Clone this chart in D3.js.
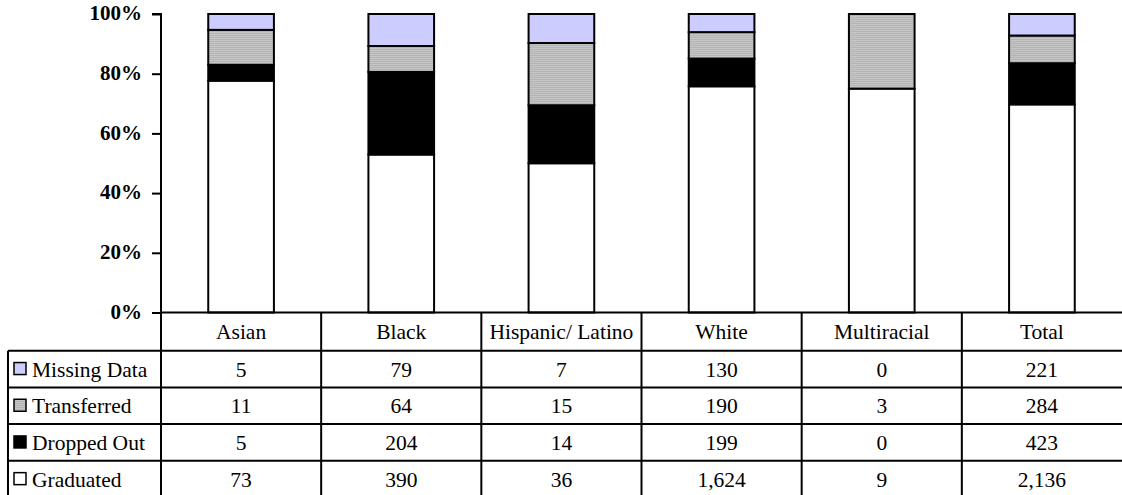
<!DOCTYPE html>
<html>
<head>
<meta charset="utf-8">
<script src="https://cdn.jsdelivr.net/npm/d3@7"></script>
<style>
  html, body { margin: 0; padding: 0; background: #fff; }
  svg { display: block; }
  text { font-family: "Liberation Serif", "Times New Roman", serif; fill: #000; }
</style>
</head>
<body>
<svg id="chart" width="1122" height="495"></svg>
<script>
// Student outcomes by race / ethnicity (counts)
const categories = ["Asian", "Black", "Hispanic/ Latino", "White", "Multiracial", "Total"];
const seriesNames = ["Graduated", "Dropped Out", "Transferred", "Missing Data"];
const graduated   = [73, 390, 36, 1624, 9, 2136];
const droppedOut  = [5, 204, 14, 199, 0, 423];
const transferred = [11, 64, 15, 190, 3, 284];
const missingData = [5, 79, 7, 130, 0, 221];
const yTicks = [0, 0.2, 0.4, 0.6, 0.8, 1.0];

const seriesValues = [graduated, droppedOut, transferred, missingData];
// table rows are listed top-down in reverse stacking order
const tableRows = ["Missing Data", "Transferred", "Dropped Out", "Graduated"];

const svg = d3.select("#chart");
const W = 1122;

const plotLeft = 161, plotRight = 1122;
const plotTop = 14, plotBottom = 312.5;
const tableBottom = 497.5;
const serif = "'Liberation Serif', 'Times New Roman', serif";

// pattern for the "Transferred" fill: fine horizontal grey stripes
const defs = svg.append("defs");
const pat = defs.append("pattern")
  .attr("id", "stripes").attr("patternUnits", "userSpaceOnUse")
  .attr("width", 4).attr("height", 2);
pat.append("rect").attr("width", 4).attr("height", 1).attr("fill", "#c6c6c6");
pat.append("rect").attr("y", 1).attr("width", 4).attr("height", 1).attr("fill", "#b4b4b4");

const fills = {
  "Graduated": "#ffffff",
  "Dropped Out": "#000000",
  "Transferred": "url(#stripes)",
  "Missing Data": "#ccccff"
};

// table columns and bar positions share the same category band
const col = d3.scaleBand().domain(categories).range([plotLeft, plotRight]).padding(0);
const x = d3.scaleBand().domain(categories).range([plotLeft, plotRight])
  .paddingInner(0.59).paddingOuter(0.295);
const y = d3.scaleLinear().domain([0, 1]).range([plotBottom, plotTop]);

// stacked percentages
const rows = categories.map((c, i) => {
  const o = { category: c };
  seriesNames.forEach((s, k) => { o[s] = seriesValues[k][i]; });
  return o;
});
const stacked = d3.stack().keys(seriesNames).offset(d3.stackOffsetExpand)(rows);

const barG = svg.append("g");
stacked.forEach(layer => {
  barG.selectAll(null).data(layer).join("rect")
    .attr("x", d => x(d.data.category))
    .attr("width", x.bandwidth())
    .attr("y", d => y(d[1]))
    .attr("height", d => Math.max(0, y(d[0]) - y(d[1])))
    .attr("fill", fills[layer.key])
    .attr("stroke", "#000")
    .attr("stroke-width", 2)
    .attr("display", d => (d[1] - d[0]) > 0 ? null : "none");
});

// y axis
const yAxis = d3.axisLeft(y).tickValues(yTicks).tickFormat(d3.format(".0%"))
  .tickSize(9).tickPadding(10);
const ag = svg.append("g").attr("transform", `translate(${plotLeft},0)`).call(yAxis);
ag.attr("font-family", serif);
ag.select(".domain").attr("stroke", "#000").attr("stroke-width", 2)
  .attr("d", `M-9,${plotTop}H0V${plotBottom}`);
ag.selectAll(".tick line").attr("stroke", "#000").attr("stroke-width", 2);
ag.selectAll(".tick text")
  .attr("font-family", serif)
  .attr("font-size", 21).attr("font-weight", "bold").attr("fill", "#000")
  .attr("dy", "0.27em");

// data table
const rowY = d3.scaleBand().domain(tableRows).range([350.7, tableBottom]);
const tg = svg.append("g").attr("font-family", serif);
const line = (x1, y1, x2, y2) => tg.append("line")
  .attr("x1", x1).attr("y1", y1).attr("x2", x2).attr("y2", y2)
  .attr("stroke", "#000").attr("stroke-width", 2);

// horizontal rules
line(plotLeft - 1, plotBottom, W, plotBottom);
tableRows.forEach(r => line(8, rowY(r), W, rowY(r)));
// vertical rules
line(8, rowY(tableRows[0]), 8, tableBottom);
categories.forEach(c => line(col(c), plotBottom, col(c), tableBottom));

const fs = 21.5;

// header labels
tg.selectAll(null).data(categories).join("text")
  .attr("x", c => col(c) + col.bandwidth() / 2)
  .attr("y", (plotBottom + 350.7) / 2)
  .attr("dy", "0.35em").attr("text-anchor", "middle")
  .attr("font-size", fs)
  .text(c => c);

const fmt = d3.format(",");
const valuesByRow = {
  "Missing Data": missingData,
  "Transferred": transferred,
  "Dropped Out": droppedOut,
  "Graduated": graduated
};

tableRows.forEach(r => {
  const cy = rowY(r) + rowY.bandwidth() / 2;
  // legend key
  tg.append("rect")
    .attr("x", 14).attr("y", cy - 6.5).attr("width", 12).attr("height", 12)
    .attr("fill", fills[r]).attr("stroke", "#000").attr("stroke-width", 1.5);
  tg.append("text")
    .attr("x", 32).attr("y", cy).attr("dy", "0.35em")
    .attr("font-size", fs).text(r);
  tg.selectAll(null).data(valuesByRow[r]).join("text")
    .attr("x", (v, i) => col(categories[i]) + col.bandwidth() / 2)
    .attr("y", cy).attr("dy", "0.35em").attr("text-anchor", "middle")
    .attr("font-size", fs)
    .text(v => fmt(v));
});
</script>
</body>
</html>
